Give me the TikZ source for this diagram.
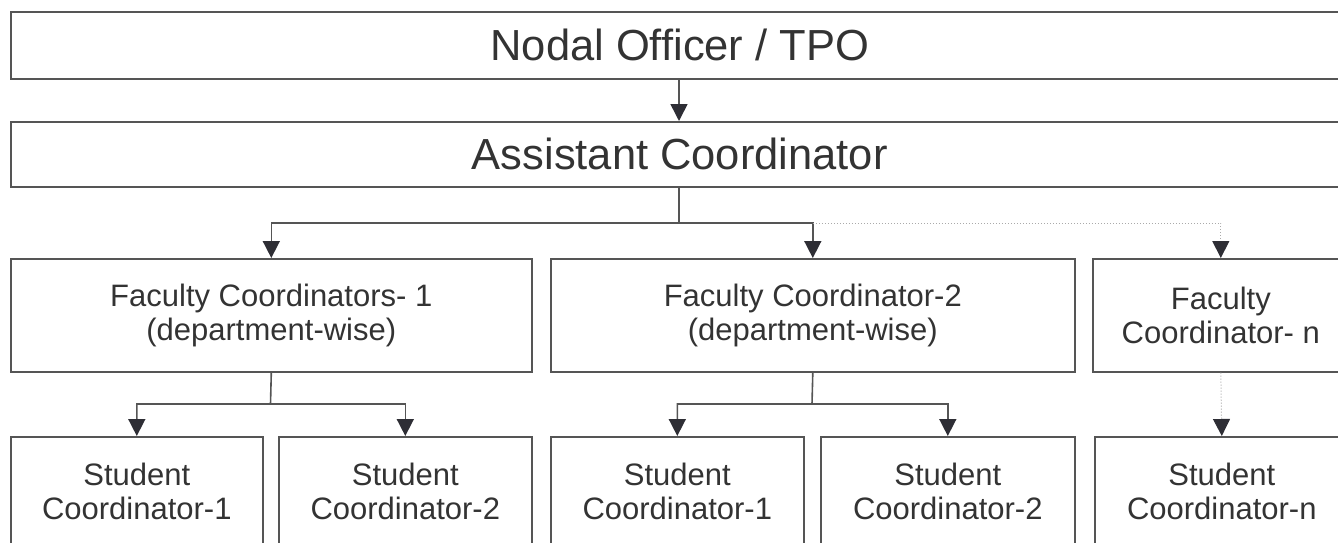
\documentclass[tikz,border=0pt]{standalone}
\usepackage{fontspec}
\setmainfont{Liberation Sans}
\usetikzlibrary{arrows.meta,calc}
\definecolor{txt}{HTML}{333333}
\definecolor{ln}{HTML}{555555}
\definecolor{dotc}{HTML}{AAAAAA}
\definecolor{tipc}{HTML}{2E2E35}
\tikzset{
  box/.style={draw=ln, line width=1.6pt, rectangle, inner sep=0pt, anchor=north west, text=txt, align=center},
  big/.style={font=\fontsize{43.5}{48}\selectfont},
  mid/.style={font=\fontsize{31}{34}\selectfont},
  conn/.style={draw=ln, line width=1.6pt, -{Triangle[length=17pt,width=17pt,fill=tipc,color=tipc]}},
  dconn/.style={draw=dotc, line width=1pt, dotted, -{Triangle[length=17pt,width=17pt,fill=tipc,color=tipc]}},
}
\begin{document}
\begin{tikzpicture}[x=1pt,y=-1pt]
\useasboundingbox (0,0) rectangle (1338,543);
\clip (0,0) rectangle (1338,543);
\node[box,big,minimum width=1338pt,minimum height=67pt] (top) at (10,11) {Nodal Officer / TPO};
\node[box,big,minimum width=1338pt,minimum height=65pt] (asst) at (10,121) {Assistant Coordinator};
\node[box,mid,minimum width=521pt,minimum height=113pt] (f1) at (10,258) {Faculty Coordinators- 1\\(department-wise)};
\node[box,mid,minimum width=524pt,minimum height=113pt] (f2) at (550,258) {Faculty Coordinator-2\\(department-wise)};
\node[box,mid,minimum width=256pt,minimum height=113pt] (f3) at (1092,258) {Faculty\\Coordinator- n};
\node[box,mid,minimum width=252pt,minimum height=110pt] (s1) at (10,436) {Student\\Coordinator-1};
\node[box,mid,minimum width=253pt,minimum height=110pt] (s2) at (278,436) {Student\\Coordinator-2};
\node[box,mid,minimum width=253pt,minimum height=110pt] (s3) at (550,436) {Student\\Coordinator-1};
\node[box,mid,minimum width=254pt,minimum height=110pt] (s4) at (820,436) {Student\\Coordinator-2};
\node[box,mid,minimum width=254pt,minimum height=110pt] (s5) at (1094,436) {Student\\Coordinator-n};
\coordinate (j0) at (679,223);
\coordinate (j1) at (270.5,404);
\coordinate (j2) at (812,404);
\draw[conn] (top.south -| j0) -- (asst.north -| j0);
\draw[conn] (asst.south -| j0) -- (j0) -| (f1.north);
\draw[conn] (j0) -| (f2.north);
\draw[dconn] (j0 -| f2.north) -| (f3.north);
\draw[conn] (f1.south) -- (j1) -| (s1.north);
\draw[conn] (j1) -| (s2.north);
\draw[conn] (f2.south) -- (j2) -| (s3.north);
\draw[conn] (j2) -| (s4.north);
\draw[dconn] (f3.south) -- (s5.north);
\end{tikzpicture}
\end{document}
